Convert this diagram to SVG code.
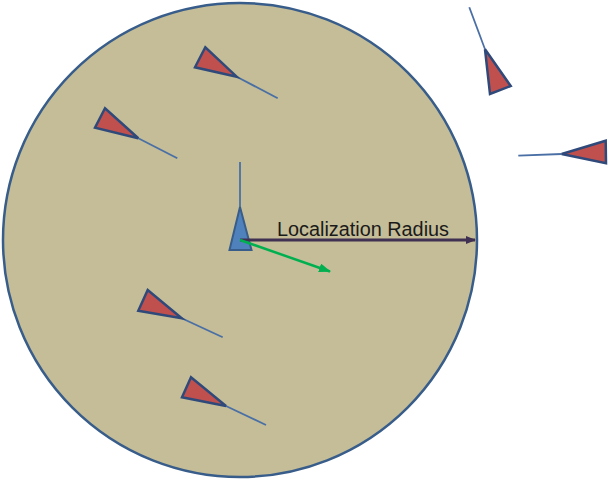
<svg xmlns="http://www.w3.org/2000/svg" width="608" height="480" viewBox="0 0 608 480">
<defs>
<style>
.red{fill:#C0504D;stroke:#2F4A7A;stroke-width:2.5;stroke-linejoin:miter}
.ant{stroke:#4A6FA5;stroke-width:1.8;fill:none}
.lbl{font-family:"Liberation Sans",Arial,sans-serif;font-size:20px;fill:#1a1a1a}
</style>
<marker id="ahDark" markerWidth="10" markerHeight="8" refX="9" refY="4" orient="auto" markerUnits="userSpaceOnUse">
<path d="M0,0 L10,4 L0,8 Z" fill="#403152"/>
</marker>
<marker id="ahGreen" markerWidth="12" markerHeight="9" refX="11" refY="4.5" orient="auto" markerUnits="userSpaceOnUse">
<path d="M0,0 L12,4.5 L0,9 Z" fill="#00B050"/>
</marker>
</defs>
<rect width="608" height="480" fill="#FFFFFF"/>
<g id="range-circle">
<circle cx="240" cy="240" r="237" fill="#C4BD97" stroke="#385D8A" stroke-width="2.5"/>
</g>
<g id="center-agent">
<line x1="240" y1="162" x2="240" y2="207" stroke="#4A6FA5" stroke-width="1.8"/>
<polygon points="240,207 229.5,250 251.5,250" fill="#4F81BD" stroke="#385D8A" stroke-width="2"/>
</g>
<g id="connectors">
<line x1="240" y1="240" x2="475" y2="240" stroke="#403152" stroke-width="3" marker-end="url(#ahDark)"/>
<line x1="240" y1="240" x2="330" y2="271.5" stroke="#00B050" stroke-width="2.5" marker-end="url(#ahGreen)"/>
</g>
<g id="label">
<text class="lbl" x="277" y="236" textLength="172" lengthAdjust="spacingAndGlyphs">Localization Radius</text>
</g>
<g id="agent-a">
<line class="ant" x1="236.7" y1="76.7" x2="277.7" y2="98.3"/>
<polygon class="red" points="205.3,47.3 195,67.3 236.7,76.7"/>
</g>
<g id="agent-b">
<line class="ant" x1="138.3" y1="138.3" x2="177.3" y2="158.3"/>
<polygon class="red" points="105,108.3 95,127.7 138.3,138.3"/>
</g>
<g id="agent-c">
<line class="ant" x1="181.7" y1="318.3" x2="222.7" y2="337.3"/>
<polygon class="red" points="147.7,290 138.3,310.7 181.7,318.3"/>
</g>
<g id="agent-d">
<line class="ant" x1="226" y1="406" x2="266" y2="425"/>
<polygon class="red" points="191,377.3 182,397.3 226,406"/>
</g>
<g id="agent-e">
<line class="ant" x1="469.3" y1="7.3" x2="485" y2="49.3"/>
<polygon class="red" points="485,49.3 490,94 510.7,86"/>
</g>
<g id="agent-f">
<line class="ant" x1="518.3" y1="155.7" x2="561.7" y2="154"/>
<polygon class="red" points="561.7,154 605.7,140.7 606,163.3"/>
</g>
</svg>
